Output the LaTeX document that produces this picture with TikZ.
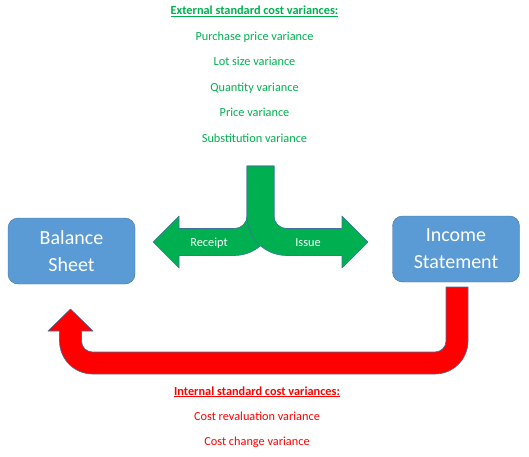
\documentclass[tikz,border=0pt]{standalone}
\usepackage{fontspec}
\setmainfont{Carlito}
\usepackage{tikz}
\usetikzlibrary{positioning}

\definecolor{extgreen}{HTML}{00B050}
\definecolor{intred}{HTML}{FF0000}
\definecolor{boxblue}{HTML}{5B9BD5}
\definecolor{edgeblue}{HTML}{41719C}

\begin{document}
\begin{tikzpicture}[x=1pt, y=1pt, node distance=13pt,
  stmt/.style={draw=edgeblue, fill=boxblue, rounded corners=10pt, text=white, align=center,
    minimum width=127pt, minimum height=66pt, font=\fontsize{20}{27}\selectfont},
  ext/.style={text=extgreen, font=\fontsize{12.3}{14}\selectfont, text height=9pt, text depth=3pt, inner sep=0pt},
  int/.style={ext, text=intred},
  block/.style={draw=edgeblue, line width=0.6pt, line join=round},
  tag/.style={text=white, font=\fontsize{12.3}{14}\selectfont}]
  \useasboundingbox (0,0) rectangle (529,456);

  % external variances
  \node[ext] (exthead) at (254.5,444) {\textbf{\underline{External standard cost variances:}}};
  \node[ext, below=of exthead] (purchase) {Purchase price variance};
  \node[ext, below=of purchase] (lotsize) {Lot size variance};
  \node[ext, below=of lotsize] (quantity) {Quantity variance};
  \node[ext, below=of quantity] (price) {Price variance};
  \node[ext, below=of price] (subst) {Substitution variance};

  % statements
  \node[stmt] (balance) at (71.5,205) {Balance\\Sheet};
  \node[stmt] (income) at (456,207) {Income\\Statement};

  % receipt / issue arrows
  \filldraw[block, fill=extgreen] (247,290) -- (274,290) -- (274,240)
    arc[start angle=0, end angle=-90, radius=39.5] -- (179,200.5) -- (179,188)
    -- (153,214) -- (179,240) -- (179,227.5) -- (234.5,227.5)
    arc[start angle=-90, end angle=0, radius=12.5] -- cycle;
  \filldraw[block, fill=extgreen] (274,290) -- (247,290) -- (247,240)
    arc[start angle=180, end angle=270, radius=39.5] -- (342,200.5) -- (342,188)
    -- (368,214) -- (342,240) -- (342,227.5) -- (286.5,227.5)
    arc[start angle=270, end angle=180, radius=12.5] -- cycle;
  \node[tag] (receipt) at (209,213) {Receipt};
  \node[tag] (issue) at (308,213) {Issue};

  % internal return arrow
  \filldraw[block, fill=intred] (446,169) -- (468,169) -- (468,115)
    arc[start angle=0, end angle=-90, radius=33] -- (92.5,82)
    arc[start angle=270, end angle=180, radius=33] -- (59.5,125) -- (48,125)
    -- (70.5,147) -- (93,125) -- (81.5,125) -- (81.5,115)
    arc[start angle=180, end angle=270, radius=11] -- (435,104)
    arc[start angle=270, end angle=360, radius=11] -- cycle;

  % internal variances
  \node[int] (inthead) at (257,64) {\textbf{\underline{Internal standard cost variances:}}};
  \node[int, below=of inthead] (reval) {Cost revaluation variance};
  \node[int, below=of reval] (change) {Cost change variance};
\end{tikzpicture}
\end{document}
